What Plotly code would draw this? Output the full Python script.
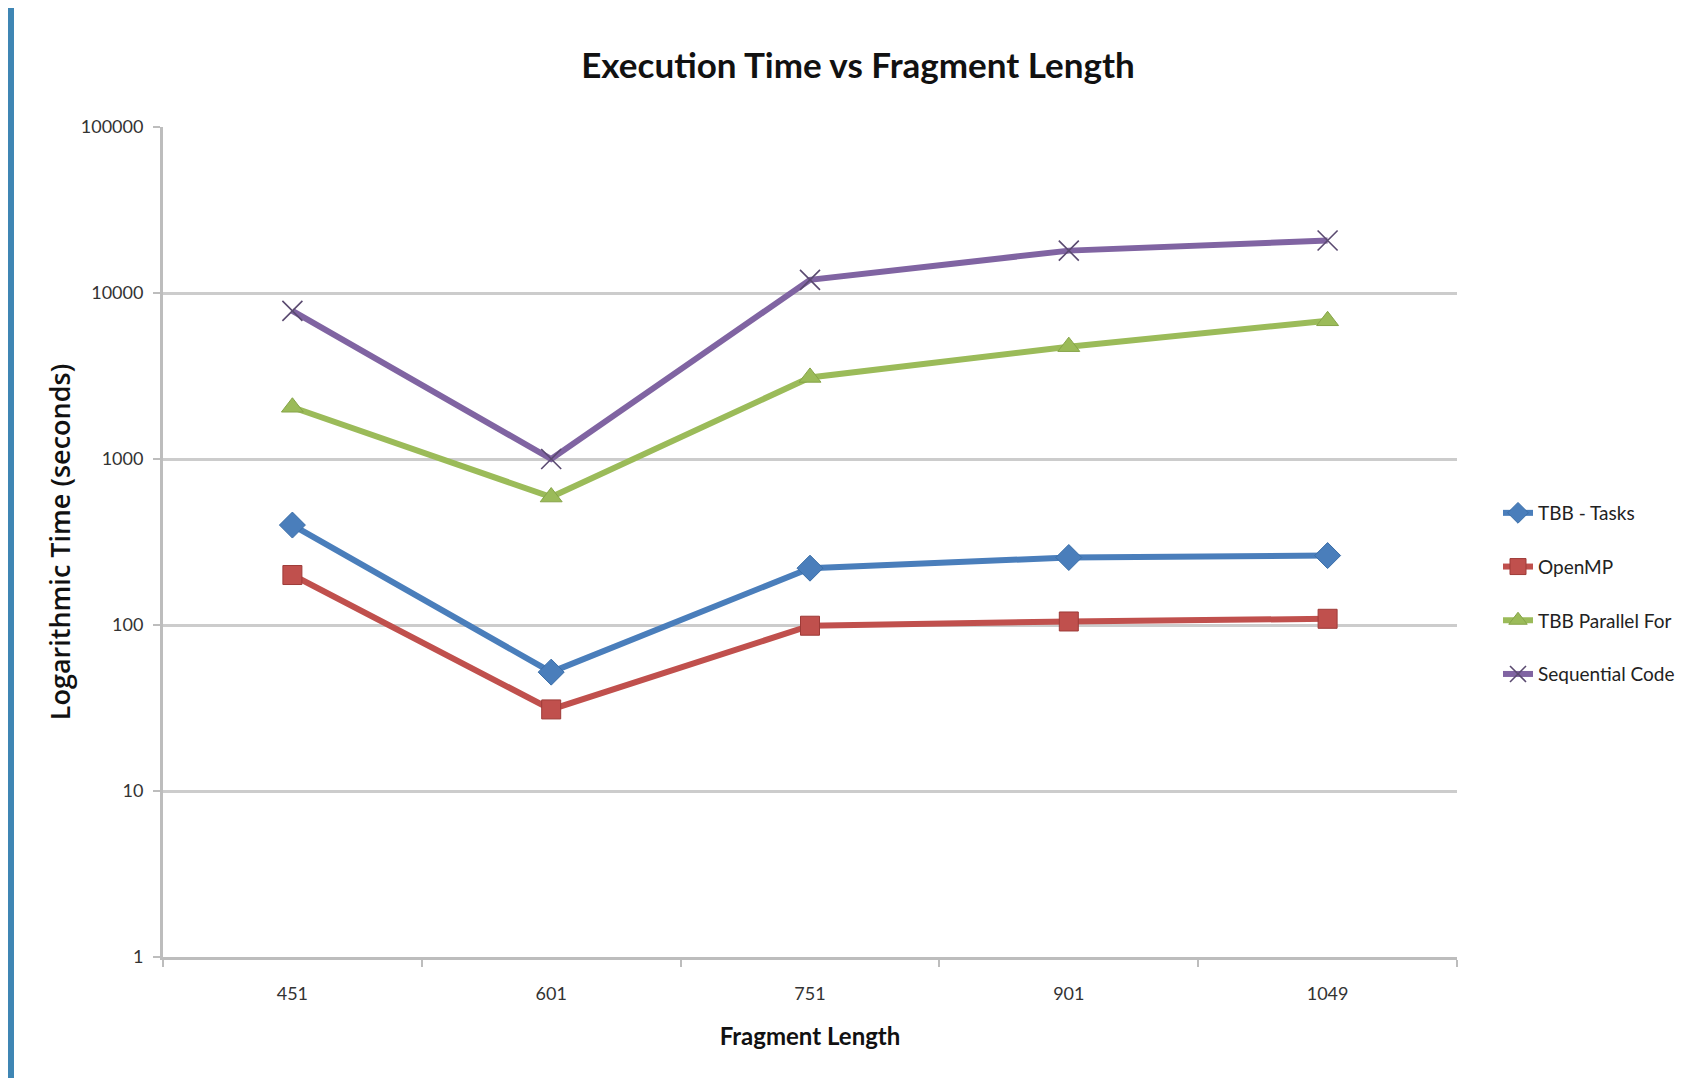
import plotly.graph_objects as go

# ---- data ----
fragment_lengths = ["451", "601", "751", "901", "1049"]
tbb_tasks = [400, 52, 220, 255, 262]
openmp = [200, 31, 99, 105, 109]
tbb_parallel_for = [2050, 590, 3100, 4750, 6800]
sequential_code = [7800, 1000, 12000, 18000, 20700]
y_tick_vals = [1, 10, 100, 1000, 10000, 100000]
y_tick_text = ["1", "10", "100", "1000", "10000", "100000"]

# page body has an 8px margin: figure pixel = reference pixel - 8
OFF = 8
W, H = 1697 - 2 * OFF, 1086 - 2 * OFF
L, R, T, B = 163 - OFF, 1457 - OFF, 127 - OFF, 957 - OFF
PW, PH = R - L, B - T

def px2x(px):
    return (px - OFF - L) / PW

def py2y(py):
    return (B - (py - OFF)) / PH

fig = go.Figure()

series = [
    ("TBB - Tasks", tbb_tasks, "#4A7EBB", "diamond", 20, "#3a6ea8", 1),
    ("OpenMP", openmp, "#C0504D", "square", 19, "#9e3b38", 1),
    ("TBB Parallel For", tbb_parallel_for, "#9BBB59", "triangle-up", 19, "#86a448", 1),
    ("Sequential Code", sequential_code, "#8064A2", "x-thin", 20, "#5a4a70", 1.6),
]
for i, (name, vals, col, sym, size, lcol, lw) in enumerate(series):
    fig.add_trace(go.Scatter(
        x=fragment_lengths, y=vals, name=name, mode="lines+markers",
        line=dict(color=col, width=6),
        marker=dict(symbol=sym, size=size, color=col,
                    line=dict(color=lcol, width=lw)),
        legendgroup=f"g{i}",
    ))

fig.update_layout(
    width=W, height=H,
    margin=dict(l=L, r=W - R, t=T, b=H - B, autoexpand=False),
    paper_bgcolor="white", plot_bgcolor="white",
    font=dict(family="Lato, Open Sans, sans-serif", color="#222"),
    title=dict(text="<b>Execution Time vs Fragment Length</b>",
               font=dict(family="Lato", size=35, color="#111"),
               xref="paper", x=px2x(858), xanchor="center",
               yref="container", y=1 - (66 - OFF) / H, yanchor="middle"),
    showlegend=True,
    legend=dict(x=px2x(1498), xanchor="left", y=py2y(494), yanchor="top",
                font=dict(family="Lato", size=19, color="#222"),
                tracegroupgap=26, itemwidth=30, bgcolor="rgba(0,0,0,0)"),
)

fig.update_xaxes(
    type="category", range=[-0.5, 4.5],
    showgrid=False, showline=True, linecolor="#bdbdbd", linewidth=3,
    ticks="outside", tickson="boundaries", ticklen=7, tickwidth=2, tickcolor="#bdbdbd",
    tickfont=dict(family="Lato", size=18, color="#333"),
    ticklabelstandoff=18,
    title=dict(text="<b>Fragment Length</b>", font=dict(family="Lato", size=24, color="#111"),
               standoff=26),
    zeroline=False,
)
fig.update_yaxes(
    type="log", range=[0, 5],
    tickvals=y_tick_vals, ticktext=y_tick_text,
    showgrid=True, gridcolor="#cccccc", gridwidth=3,
    showline=True, linecolor="#bdbdbd", linewidth=3,
    ticks="outside", ticklen=7, tickwidth=2, tickcolor="#bdbdbd",
    tickfont=dict(family="Lato", size=18, color="#333"),
    ticklabelstandoff=6,
    title=dict(text="Logarithmic Time (seconds)",
               font=dict(family="Open Sans", size=27, color="#111", weight=600),
               standoff=3),
    zeroline=False,
)

# frame decoration: blue strip on the left edge
fig.add_shape(type="rect", xref="paper", yref="paper",
              x0=px2x(OFF), x1=px2x(14), y0=py2y(1086), y1=py2y(OFF),
              fillcolor="#3f86b4", line_width=0, layer="below")

fig.write_html("out.html")
